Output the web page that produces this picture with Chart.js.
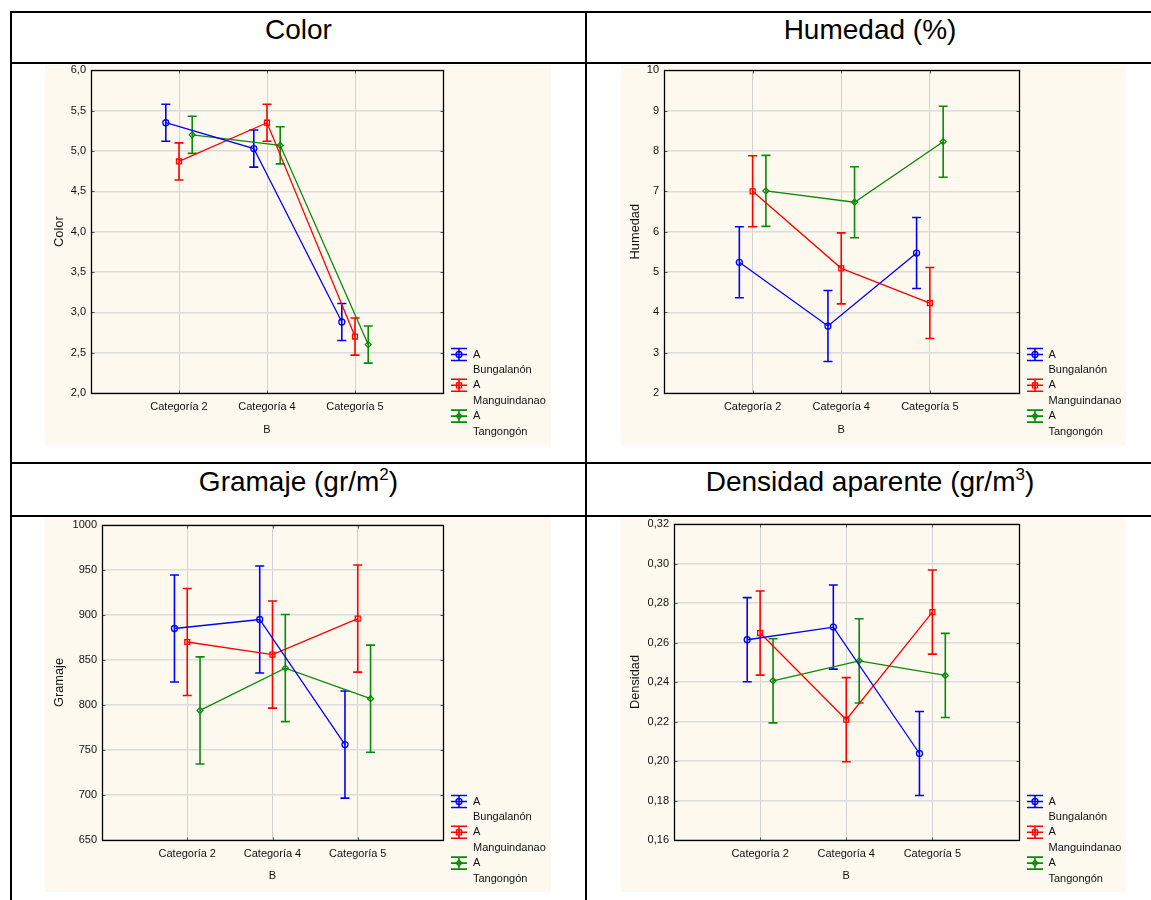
<!DOCTYPE html>
<html lang="es">
<head>
<meta charset="UTF-8">
<title>Propiedades del papel</title>
<script src="https://cdn.jsdelivr.net/npm/chart.js@4.4.1/dist/chart.umd.min.js"></script>
<style>
  body { margin: 0; background: #fff; font-family: "Liberation Sans", Arial, sans-serif; }
  .page { position: relative; width: 1151px; height: 900px; overflow: hidden; }
  .hline { position: absolute; left: 10px; right: 0; height: 2px; background: #000; }
  .vline { position: absolute; top: 11px; bottom: 0; width: 2px; background: #000; }
  .title { position: absolute; font-size: 28px; line-height: 28px; text-align: center; color: #000; white-space: nowrap; }
  .title sup { font-size: 17px; line-height: 0; vertical-align: 11px; }
  canvas { position: absolute; background: #fef9ee; }
</style>
</head>
<body>
<div class="page">
  <div class="hline" style="top:11px"></div>
  <div class="hline" style="top:62px"></div>
  <div class="hline" style="top:462px"></div>
  <div class="hline" style="top:515px"></div>
  <div class="vline" style="left:10px"></div>
  <div class="vline" style="left:585px"></div>

  <div class="title" style="left:12px;width:573px;top:16px">Color</div>
  <div class="title" style="left:587px;width:566px;top:16px">Humedad (%)</div>
  <div class="title" style="left:12px;width:573px;top:468px">Gramaje (gr/m<sup>2</sup>)</div>
  <div class="title" style="left:587px;width:566px;top:468px">Densidad aparente (gr/m<sup>3</sup>)</div>

  <canvas id="cColor" width="506" height="381" style="left:45px;top:65px"></canvas>
  <canvas id="cHumedad" width="505" height="381" style="left:621px;top:65px"></canvas>
  <canvas id="cGramaje" width="506" height="375" style="left:45px;top:517px"></canvas>
  <canvas id="cDensidad" width="505" height="375" style="left:621px;top:517px"></canvas>
</div>

<script>
// factor B levels on the x axis, factor A levels as series
const categories = ['Categoría 2', 'Categoría 4', 'Categoría 5'];
const xTitle = 'B';
const factorName = 'A';
const groups = ['Bungalanón', 'Manguindanao', 'Tangongón'];

// means per group, in category order
const colorBungalanon = [5.35, 5.03, 2.88];
const colorManguindanao = [4.87, 5.35, 2.70];
const colorTangongon = [5.20, 5.07, 2.60];
const colorCI = [0.23, 0.23, 0.23];

const humedadBungalanon = [5.24, 3.66, 5.47];
const humedadManguindanao = [7.00, 5.09, 4.23];
const humedadTangongon = [7.01, 6.73, 8.23];
const humedadCI = [0.88, 0.88, 0.88];

const gramajeBungalanon = [885, 895, 756];
const gramajeManguindanao = [870, 856, 896];
const gramajeTangongon = [794, 841, 807];
const gramajeCI = [59.5, 59.5, 59.5];

const densidadBungalanon = [0.2614, 0.2678, 0.2038];
const densidadManguindanao = [0.2648, 0.2209, 0.2754];
const densidadTangongon = [0.2406, 0.2507, 0.2433];
const densidadCI = [0.0213, 0.0213, 0.0213];

// y axis ranges: [min, max, step, decimals]
const colorRange = [2, 6, 0.5, 1];
const humedadRange = [2, 10, 1, 0];
const gramajeRange = [650, 1000, 50, 0];
const densidadRange = [0.16, 0.32, 0.02, 2];

const seriesColors = ['#0000ff', '#ff0000', '#0a8a0a'];
const seriesMarkers = ['circle', 'rect', 'rectRot'];
const seriesShift = [-0.15, 0, 0.15];
const FONT = '"Liberation Sans", Arial, sans-serif';

Chart.defaults.font.family = FONT;
Chart.defaults.color = '#111';

function drawMarker(ctx, style, x, y) {
  ctx.beginPath();
  if (style === 'circle') {
    ctx.arc(x, y, 3, 0, Math.PI * 2);
  } else if (style === 'rect') {
    ctx.rect(x - 2.5, y - 2.5, 5, 5);
  } else {
    ctx.moveTo(x, y - 3); ctx.lineTo(x + 3, y); ctx.lineTo(x, y + 3); ctx.lineTo(x - 3, y); ctx.closePath();
  }
  ctx.stroke();
}

// vertical interval bars with caps, under the markers
const errorBars = {
  id: 'errorBars',
  beforeDatasetsDraw(chart) {
    const ctx = chart.ctx, ys = chart.scales.y;
    chart.data.datasets.forEach((ds, i) => {
      const meta = chart.getDatasetMeta(i);
      ctx.save();
      ctx.strokeStyle = ds.borderColor;
      ctx.lineWidth = 1.6;
      ctx.beginPath();
      meta.data.forEach((pt, j) => {
        const v = ds.data[j].y, e = ds.ci[j];
        const x = pt.x;
        const top = ys.getPixelForValue(v + e);
        const bot = ys.getPixelForValue(v - e);
        ctx.moveTo(x, top); ctx.lineTo(x, bot);
        ctx.moveTo(x - 4.5, top); ctx.lineTo(x + 4.5, top);
        ctx.moveTo(x - 4.5, bot); ctx.lineTo(x + 4.5, bot);
      });
      ctx.stroke();
      ctx.restore();
    });
  }
};

// closed plot frame with small inward ticks
const frame = {
  id: 'frame',
  afterDatasetsDraw(chart) {
    const {ctx, chartArea: a, scales: {x, y}} = chart;
    const l = Math.round(a.left) + 0.5, r = Math.round(a.right) + 0.5;
    const t = Math.round(a.top) + 0.5, b = Math.round(a.bottom) + 0.5;
    ctx.save();
    ctx.strokeStyle = '#555';
    ctx.lineWidth = 1;
    ctx.beginPath();
    y.ticks.forEach(tk => {
      const py = Math.round(y.getPixelForValue(tk.value)) + 0.5;
      ctx.moveTo(l, py); ctx.lineTo(l + 3, py);
      ctx.moveTo(r - 3, py); ctx.lineTo(r, py);
    });
    x.ticks.forEach(tk => {
      const px = Math.round(x.getPixelForValue(tk.value)) + 0.5;
      ctx.moveTo(px, t); ctx.lineTo(px, t + 3);
      ctx.moveTo(px, b - 3); ctx.lineTo(px, b);
    });
    ctx.stroke();
    ctx.strokeStyle = '#000';
    ctx.lineWidth = 1.3;
    ctx.strokeRect(l, t, r - l, b - t);
    ctx.restore();
  }
};

// two-line legend entries at the lower right of the plot
const legendBox = {
  id: 'legendBox',
  afterDraw(chart) {
    const {ctx, chartArea: a} = chart;
    ctx.save();
    ctx.font = '11px ' + FONT;
    ctx.textBaseline = 'middle';
    groups.forEach((g, i) => {
      const y = a.bottom - 38.5 + i * 30.8;
      const x0 = Math.round(a.right) + 8;
      ctx.strokeStyle = seriesColors[i];
      ctx.lineWidth = 1.6;
      ctx.beginPath();
      ctx.moveTo(x0, y - 6); ctx.lineTo(x0 + 16, y - 6);
      ctx.moveTo(x0, y); ctx.lineTo(x0 + 16, y);
      ctx.moveTo(x0, y + 6); ctx.lineTo(x0 + 16, y + 6);
      ctx.moveTo(x0 + 8, y - 6); ctx.lineTo(x0 + 8, y + 6);
      ctx.stroke();
      ctx.lineWidth = 1.3;
      drawMarker(ctx, seriesMarkers[i], x0 + 8, y);
      ctx.fillStyle = '#111';
      ctx.fillText(factorName, a.right + 30, y);
      ctx.fillText(g, a.right + 30, y + 15.4);
    });
    ctx.restore();
  }
};

function makeChart(id, yTitle, series, ci, range, area) {
  const canvas = document.getElementById(id);
  const W = canvas.width, H = canvas.height;
  const [yMin, yMax, step, dec] = range;
  const datasets = series.map((vals, i) => ({
    label: factorName + ' ' + groups[i],
    data: vals.map((v, j) => ({x: j + 1 + seriesShift[i], y: v})),
    ci: ci,
    borderColor: seriesColors[i],
    backgroundColor: 'rgba(0,0,0,0)',
    borderWidth: 1.3,
    tension: 0,
    pointStyle: seriesMarkers[i],
    pointRadius: seriesMarkers[i] === 'rect' ? 3.5 : 3,
    pointBorderWidth: 1.3,
    pointBackgroundColor: 'rgba(0,0,0,0)',
    pointBorderColor: seriesColors[i]
  }));

  return new Chart(canvas, {
    type: 'line',
    data: {datasets},
    options: {
      responsive: false,
      animation: false,
      layout: {padding: {left: 0, top: area.top, right: W - area.right, bottom: 0}},
      plugins: {legend: {display: false}, tooltip: {enabled: false}},
      scales: {
        x: {
          type: 'linear', min: 0, max: 4,
          afterBuildTicks: s => { s.ticks = categories.map((c, i) => ({value: i + 1})); },
          ticks: {
            callback: v => categories[Math.round(v) - 1],
            font: {size: 11}, padding: 7.5, maxRotation: 0, autoSkip: false
          },
          grid: {color: '#d2d2d2', lineWidth: 1, drawTicks: false},
          border: {display: false},
          title: {display: true, text: xTitle, font: {size: 11}, padding: {top: 0, bottom: 9.5}},
          afterFit: s => { s.height = H - area.bottom; s.paddingLeft = 0; s.paddingRight = 0; }
        },
        y: {
          min: yMin, max: yMax,
          ticks: {
            stepSize: step,
            callback: v => Number(v).toFixed(dec).replace('.', ','),
            font: {size: 11}, padding: 5
          },
          grid: {color: '#dcdcdc', lineWidth: 1.5, drawTicks: false},
          border: {display: false},
          title: {display: true, text: yTitle, font: {size: 12.8}, padding: {top: 6.5, bottom: 0}},
          afterFit: s => { s.width = area.left; s.paddingTop = 0; s.paddingBottom = 0; }
        }
      }
    },
    plugins: [errorBars, frame, legendBox]
  });
}

makeChart('cColor', 'Color',
  [colorBungalanon, colorManguindanao, colorTangongon], colorCI, colorRange,
  {left: 46, top: 2, right: 398, bottom: 328});
makeChart('cHumedad', 'Humedad',
  [humedadBungalanon, humedadManguindanao, humedadTangongon], humedadCI, humedadRange,
  {left: 43, top: 3, right: 397.5, bottom: 328});
makeChart('cGramaje', 'Gramaje',
  [gramajeBungalanon, gramajeManguindanao, gramajeTangongon], gramajeCI, gramajeRange,
  {left: 57, top: 8, right: 398, bottom: 323});
makeChart('cDensidad', 'Densidad',
  [densidadBungalanon, densidadManguindanao, densidadTangongon], densidadCI, densidadRange,
  {left: 53, top: 7, right: 397.5, bottom: 323});
</script>
</body>
</html>
